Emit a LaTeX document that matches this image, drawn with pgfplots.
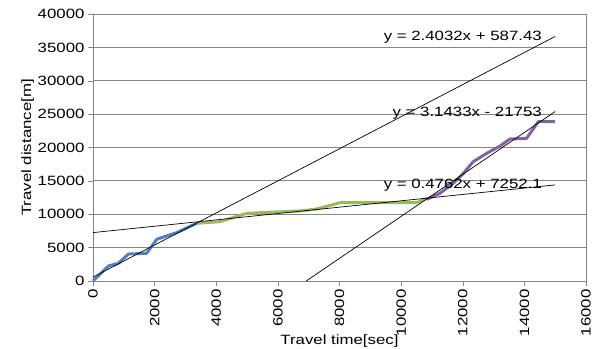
\documentclass[border=0pt]{standalone}
\usepackage{pgfplots}
\pgfplotsset{compat=1.18}
\usepackage{fontspec}
\setmainfont[FakeStretch=1.25]{Liberation Sans}
\definecolor{sblue}{RGB}{79,129,189}
\definecolor{sgreen}{RGB}{155,187,89}
\definecolor{spurple}{RGB}{128,100,162}
\definecolor{gridgray}{RGB}{134,134,134}
\newcommand{\fs}{\fontsize{13.5}{16}\selectfont}
\begin{document}
\begin{tikzpicture}
\begin{axis}[
  at={(0,0)}, anchor=south west,
  scale only axis, width=493bp, height=267bp,
  xmin=0, xmax=16000, ymin=0, ymax=40000,
  xtick={0,2000,...,16000}, ytick={0,5000,...,40000},
  scaled ticks=false,
  /pgf/number format/.cd, 1000 sep={}, assume math mode=true, /pgfplots/.cd,
  xticklabel style={rotate=90, anchor=east, font=\fs},
  yticklabel style={font=\fs},
  tick align=outside, tick pos=left,
  major tick length=5bp,
  every tick/.style={gridgray},
  axis line style={gridgray, line width=0.8pt},
  ymajorgrids, grid style={gridgray, line width=0.8pt},
  xlabel={Travel time[sec]}, ylabel={Travel distance[m]},
  label style={font=\fs},
  xlabel style={yshift=8bp},
  ylabel style={yshift=-3bp},
  clip=false,
]
\addplot[sblue, line width=3pt, line join=round] coordinates {
(0,0) (500,2250) (820,2650) (1150,4040) (1740,4150) (2070,6250) (2390,6740) (2715,7240) (3365,8640)};
\addplot[sgreen, line width=3pt, line join=round] coordinates {
(3365,8640) (4120,8890) (4990,10140) (5740,10290) (6820,10530) (7260,10790) (8020,11730) (10500,11730) (10830,12390)};
\addplot[spurple, line width=3pt, line join=round] coordinates {
(10830,12240) (11260,13140) (11690,14630) (12020,16130) (12340,17880) (12780,19130) (13210,20220) (13530,21270) (14070,21370) (14450,23870) (14990,23870)};
\addplot[black, line width=0.7pt] coordinates {(0,587.43) (15000,36635.4)};
\addplot[black, line width=0.7pt] coordinates {(6920.4,0) (15000,25396.5)};
\addplot[black, line width=0.7pt] coordinates {(0,7252.1) (15000,14395.1)};
\node[font=\fs, anchor=east, inner sep=0pt] at (axis cs:14570,36550) {y = 2.4032x + 587.43};
\node[font=\fs, anchor=east, inner sep=0pt] at (axis cs:14570,25170) {y = 3.1433x - 21753};
\node[font=\fs, anchor=east, inner sep=0pt] at (axis cs:14570,14380) {y = 0.4762x + 7252.1};
\end{axis}
\pgfresetboundingbox
\path (-93bp,-68bp) rectangle (507bp,281bp);
\end{tikzpicture}
\end{document}
